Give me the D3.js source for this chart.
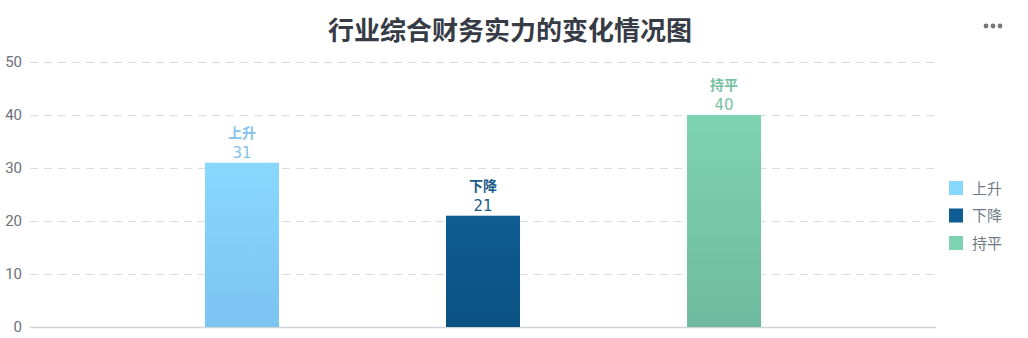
<!DOCTYPE html>
<html>
  <head>
    <meta charset="utf-8">
    <title>行业综合财务实力的变化情况图</title>
    <script src="https://d3js.org/d3.v7.min.js"></script>
    <style>
      body { margin: 0; background: #fff; }
      svg { display: block; font-family: "Noto Sans CJK SC", "Noto Sans", sans-serif; }
    </style>
  </head>
  <body>
    <div id="chart"></div>
    <script>
      // data
      const seriesNames = ["上升", "下降", "持平"];
      const seriesValues = [31, 21, 40];
      const yTicks = [0, 10, 20, 30, 40, 50];
      const colorsTop = ["#88d8fe", "#0e5c93", "#7dd3b2"];
      const colorsBottom = ["#7bc3f1", "#0a5283", "#6fbaa0"];
      const labelColors = ["#86c3e8", "#1a5b88", "#79c0a3"];

      const width = 1028, height = 338;
      const margin = { top: 62, right: 92, bottom: 11, left: 30 };

      const svg = d3.select("#chart")
        .append("svg")
        .attr("width", width)
        .attr("height", height);

      // gradients
      const defs = svg.append("defs");
      seriesNames.forEach(function(d, i) {
        const g = defs.append("linearGradient")
          .attr("id", "grad" + i)
          .attr("x1", 0).attr("y1", 0).attr("x2", 0).attr("y2", 1);
        g.append("stop").attr("offset", "0%").attr("stop-color", colorsTop[i]);
        g.append("stop").attr("offset", "100%").attr("stop-color", colorsBottom[i]);
      });

      // scales
      const y = d3.scaleLinear()
        .domain([0, 50])
        .range([height - margin.bottom, margin.top]);
      const x = d3.scaleBand()
        .domain(seriesNames)
        .range([margin.left, width - margin.right])
        .paddingInner(0.693)
        .paddingOuter(0.726);

      // title
      svg.append("text")
        .attr("x", 510)
        .attr("y", 40)
        .attr("text-anchor", "middle")
        .attr("fill", "#363b45")
        .style("font-size", "26px")
        .style("font-weight", "bold")
        .text("行业综合财务实力的变化情况图");

      // menu dots
      [0, 1, 2].forEach(function(i) {
        svg.append("circle")
          .attr("cx", 986 + i * 7)
          .attr("cy", 26)
          .attr("r", 2.4)
          .attr("fill", "#777");
      });

      // grid + y axis
      const yAxis = svg.append("g")
        .attr("transform", "translate(" + margin.left + ",0)")
        .call(d3.axisLeft(y)
          .tickValues(yTicks)
          .tickSize(-(width - margin.left - margin.right))
          .tickPadding(8));
      yAxis.select(".domain").remove();
      yAxis.selectAll(".tick line")
        .attr("stroke", function(d) { return d === 0 ? "none" : "#dcdcdc"; })
        .attr("stroke-dasharray", "8,6");
      yAxis.selectAll(".tick text")
        .attr("fill", "#6e7079")
        .style("font-size", "15px")
        .style("font-family", "Roboto, 'Liberation Sans', sans-serif");

      // x baseline
      svg.append("line")
        .attr("x1", margin.left)
        .attr("x2", width - margin.right)
        .attr("y1", y(0) + 0.5)
        .attr("y2", y(0) + 0.5)
        .attr("stroke", "#cfd3d8")
        .attr("stroke-width", 1.5);

      // bars
      svg.selectAll(".bar")
        .data(seriesNames)
        .enter().append("rect")
          .classed("bar", true)
          .attr("x", function(d) { return x(d); })
          .attr("width", x.bandwidth())
          .attr("y", function(d, i) { return y(seriesValues[i]); })
          .attr("height", function(d, i) { return y(0) - y(seriesValues[i]); })
          .attr("fill", function(d, i) { return "url(#grad" + i + ")"; });

      // labels
      const labels = svg.selectAll(".label")
        .data(seriesNames)
        .enter().append("g")
          .classed("label", true)
          .attr("transform", function(d, i) {
            return "translate(" + (x(d) + x.bandwidth() / 2) + "," + y(seriesValues[i]) + ")";
          });
      labels.append("text")
        .attr("y", -25)
        .attr("text-anchor", "middle")
        .attr("fill", function(d, i) { return labelColors[i]; })
        .style("font-size", "14px")
        .style("font-weight", "bold")
        .text(function(d) { return d; });
      labels.append("text")
        .attr("y", -5)
        .attr("text-anchor", "middle")
        .attr("fill", function(d, i) { return labelColors[i]; })
        .style("font-size", "15px")
        .style("font-family", "'DejaVu Sans', sans-serif")
        .text(function(d, i) { return seriesValues[i]; });

      // legend
      const legend = svg.selectAll(".legend")
        .data(seriesNames)
        .enter().append("g")
          .classed("legend", true)
          .attr("transform", function(d, i) { return "translate(949," + (181 + i * 27.5) + ")"; });
      legend.append("rect")
        .attr("width", 14)
        .attr("height", 14)
        .attr("fill", function(d, i) { return colorsTop[i]; });
      legend.append("text")
        .attr("x", 23)
        .attr("y", 12.5)
        .attr("fill", "#6e7b86")
        .style("font-size", "15px")
        .text(function(d) { return d; });
    </script>
  </body>
</html>
